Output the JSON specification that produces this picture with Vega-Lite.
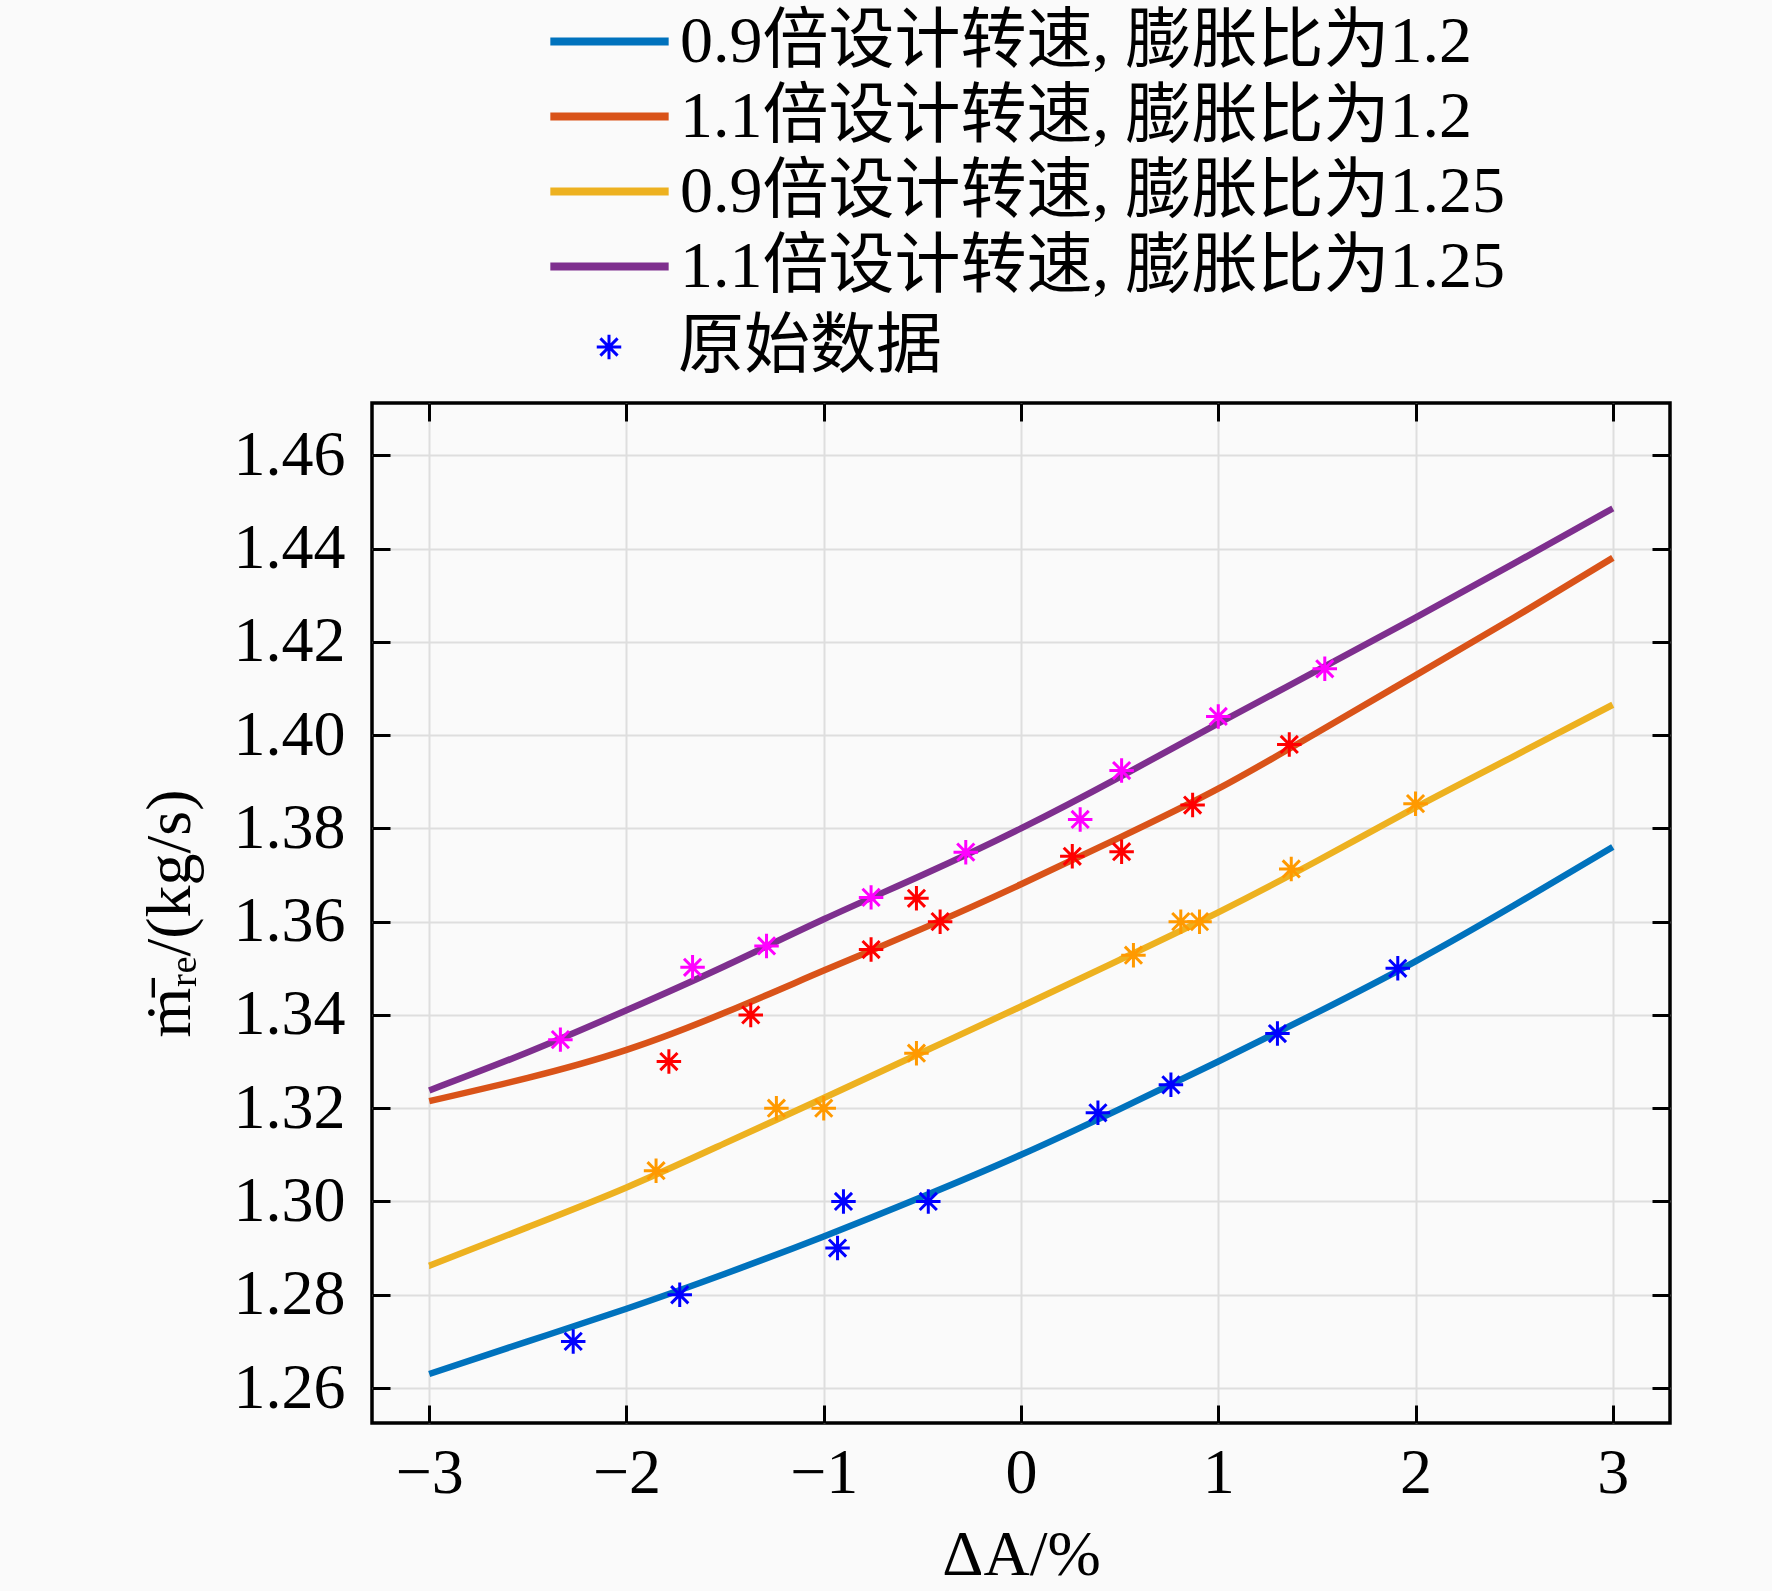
{
  "$schema": "https://vega.github.io/schema/vega-lite/v6.json",
  "width": 1298,
  "height": 1020,
  "autosize": {"type": "none"},
  "padding": {"left": 372, "top": 403, "right": 102, "bottom": 168},
  "background": "#fafafa",
  "config": {
    "view": {"stroke": "#000000", "strokeWidth": 3.5, "fill": "#fafafa"},
    "axis": {
      "labelFont": "Liberation Serif",
      "labelFontSize": 64,
      "labelColor": "#000000",
      "titleFont": "Liberation Serif",
      "titleFontSize": 64,
      "titleFontWeight": "normal",
      "titleColor": "#000000",
      "tickColor": "#000000",
      "tickWidth": 3,
      "tickSize": -18,
      "domain": false,
      "gridColor": "#dedede",
      "gridWidth": 2
    },
    "legend": {
      "labelFont": "Liberation Serif, Noto Sans CJK SC",
      "labelFontSize": 66,
      "labelColor": "#000000",
      "labelLimit": 2000
    }
  },
  "datasets": {
    "curves": [
      {"s": "0.9倍设计转速, 膨胀比为1.2", "x": -3, "y": 1.263},
      {"s": "0.9倍设计转速, 膨胀比为1.2", "x": -2.5, "y": 1.270},
      {"s": "0.9倍设计转速, 膨胀比为1.2", "x": -2, "y": 1.277},
      {"s": "0.9倍设计转速, 膨胀比为1.2", "x": -1.5, "y": 1.2845},
      {"s": "0.9倍设计转速, 膨胀比为1.2", "x": -1, "y": 1.2925},
      {"s": "0.9倍设计转速, 膨胀比为1.2", "x": -0.5, "y": 1.301},
      {"s": "0.9倍设计转速, 膨胀比为1.2", "x": 0, "y": 1.310},
      {"s": "0.9倍设计转速, 膨胀比为1.2", "x": 0.5, "y": 1.3198},
      {"s": "0.9倍设计转速, 膨胀比为1.2", "x": 1, "y": 1.330},
      {"s": "0.9倍设计转速, 膨胀比为1.2", "x": 1.5, "y": 1.3405},
      {"s": "0.9倍设计转速, 膨胀比为1.2", "x": 2, "y": 1.3515},
      {"s": "0.9倍设计转速, 膨胀比为1.2", "x": 2.5, "y": 1.3635},
      {"s": "0.9倍设计转速, 膨胀比为1.2", "x": 3, "y": 1.376},
      {"s": "1.1倍设计转速, 膨胀比为1.2", "x": -3, "y": 1.3215},
      {"s": "1.1倍设计转速, 膨胀比为1.2", "x": -2.5, "y": 1.3265},
      {"s": "1.1倍设计转速, 膨胀比为1.2", "x": -2, "y": 1.3325},
      {"s": "1.1倍设计转速, 膨胀比为1.2", "x": -1.5, "y": 1.3405},
      {"s": "1.1倍设计转速, 膨胀比为1.2", "x": -1, "y": 1.3495},
      {"s": "1.1倍设计转速, 膨胀比为1.2", "x": -0.5, "y": 1.3585},
      {"s": "1.1倍设计转速, 膨胀比为1.2", "x": 0, "y": 1.368},
      {"s": "1.1倍设计转速, 膨胀比为1.2", "x": 0.5, "y": 1.378},
      {"s": "1.1倍设计转速, 膨胀比为1.2", "x": 1, "y": 1.3885},
      {"s": "1.1倍设计转速, 膨胀比为1.2", "x": 1.5, "y": 1.4005},
      {"s": "1.1倍设计转速, 膨胀比为1.2", "x": 2, "y": 1.4128},
      {"s": "1.1倍设计转速, 膨胀比为1.2", "x": 2.5, "y": 1.4252},
      {"s": "1.1倍设计转速, 膨胀比为1.2", "x": 3, "y": 1.438},
      {"s": "0.9倍设计转速, 膨胀比为1.25", "x": -3, "y": 1.2862},
      {"s": "0.9倍设计转速, 膨胀比为1.25", "x": -2.5, "y": 1.2945},
      {"s": "0.9倍设计转速, 膨胀比为1.25", "x": -2, "y": 1.303},
      {"s": "0.9倍设计转速, 膨胀比为1.25", "x": -1.5, "y": 1.3125},
      {"s": "0.9倍设计转速, 膨胀比为1.25", "x": -1, "y": 1.3222},
      {"s": "0.9倍设计转速, 膨胀比为1.25", "x": -0.5, "y": 1.332},
      {"s": "0.9倍设计转速, 膨胀比为1.25", "x": 0, "y": 1.3418},
      {"s": "0.9倍设计转速, 膨胀比为1.25", "x": 0.5, "y": 1.3518},
      {"s": "0.9倍设计转速, 膨胀比为1.25", "x": 1, "y": 1.362},
      {"s": "0.9倍设计转速, 膨胀比为1.25", "x": 1.5, "y": 1.373},
      {"s": "0.9倍设计转速, 膨胀比为1.25", "x": 2, "y": 1.3845},
      {"s": "0.9倍设计转速, 膨胀比为1.25", "x": 2.5, "y": 1.3955},
      {"s": "0.9倍设计转速, 膨胀比为1.25", "x": 3, "y": 1.4065},
      {"s": "1.1倍设计转速, 膨胀比为1.25", "x": -3, "y": 1.3238},
      {"s": "1.1倍设计转速, 膨胀比为1.25", "x": -2.5, "y": 1.332},
      {"s": "1.1倍设计转速, 膨胀比为1.25", "x": -2, "y": 1.341},
      {"s": "1.1倍设计转速, 膨胀比为1.25", "x": -1.5, "y": 1.3505},
      {"s": "1.1倍设计转速, 膨胀比为1.25", "x": -1, "y": 1.3605},
      {"s": "1.1倍设计转速, 膨胀比为1.25", "x": -0.5, "y": 1.370},
      {"s": "1.1倍设计转速, 膨胀比为1.25", "x": 0, "y": 1.380},
      {"s": "1.1倍设计转速, 膨胀比为1.25", "x": 0.5, "y": 1.391},
      {"s": "1.1倍设计转速, 膨胀比为1.25", "x": 1, "y": 1.4025},
      {"s": "1.1倍设计转速, 膨胀比为1.25", "x": 1.5, "y": 1.4138},
      {"s": "1.1倍设计转速, 膨胀比为1.25", "x": 2, "y": 1.4252},
      {"s": "1.1倍设计转速, 膨胀比为1.25", "x": 2.5, "y": 1.4368},
      {"s": "1.1倍设计转速, 膨胀比为1.25", "x": 3, "y": 1.4486}
    ],
    "raw": [
      {"s": "0.9倍设计转速, 膨胀比为1.2", "kind": "原始数据", "x": -2.27, "y": 1.270},
      {"s": "0.9倍设计转速, 膨胀比为1.2", "kind": "原始数据", "x": -1.73, "y": 1.280},
      {"s": "0.9倍设计转速, 膨胀比为1.2", "kind": "原始数据", "x": -0.93, "y": 1.290},
      {"s": "0.9倍设计转速, 膨胀比为1.2", "kind": "原始数据", "x": -0.90, "y": 1.300},
      {"s": "0.9倍设计转速, 膨胀比为1.2", "kind": "原始数据", "x": -0.47, "y": 1.300},
      {"s": "0.9倍设计转速, 膨胀比为1.2", "kind": "原始数据", "x": 0.39, "y": 1.319},
      {"s": "0.9倍设计转速, 膨胀比为1.2", "kind": "原始数据", "x": 0.76, "y": 1.325},
      {"s": "0.9倍设计转速, 膨胀比为1.2", "kind": "原始数据", "x": 1.30, "y": 1.336},
      {"s": "0.9倍设计转速, 膨胀比为1.2", "kind": "原始数据", "x": 1.91, "y": 1.350},
      {"s": "1.1倍设计转速, 膨胀比为1.2", "kind": "原始数据", "x": -1.785, "y": 1.330},
      {"s": "1.1倍设计转速, 膨胀比为1.2", "kind": "原始数据", "x": -1.37, "y": 1.340},
      {"s": "1.1倍设计转速, 膨胀比为1.2", "kind": "原始数据", "x": -0.76, "y": 1.354},
      {"s": "1.1倍设计转速, 膨胀比为1.2", "kind": "原始数据", "x": -0.53, "y": 1.365},
      {"s": "1.1倍设计转速, 膨胀比为1.2", "kind": "原始数据", "x": -0.41, "y": 1.360},
      {"s": "1.1倍设计转速, 膨胀比为1.2", "kind": "原始数据", "x": 0.26, "y": 1.374},
      {"s": "1.1倍设计转速, 膨胀比为1.2", "kind": "原始数据", "x": 0.51, "y": 1.375},
      {"s": "1.1倍设计转速, 膨胀比为1.2", "kind": "原始数据", "x": 0.87, "y": 1.385},
      {"s": "1.1倍设计转速, 膨胀比为1.2", "kind": "原始数据", "x": 1.36, "y": 1.398},
      {"s": "0.9倍设计转速, 膨胀比为1.25", "kind": "原始数据", "x": -1.85, "y": 1.3066},
      {"s": "0.9倍设计转速, 膨胀比为1.25", "kind": "原始数据", "x": -1.24, "y": 1.320},
      {"s": "0.9倍设计转速, 膨胀比为1.25", "kind": "原始数据", "x": -1.0, "y": 1.320},
      {"s": "0.9倍设计转速, 膨胀比为1.25", "kind": "原始数据", "x": -0.53, "y": 1.3318},
      {"s": "0.9倍设计转速, 膨胀比为1.25", "kind": "原始数据", "x": 0.57, "y": 1.3528},
      {"s": "0.9倍设计转速, 膨胀比为1.25", "kind": "原始数据", "x": 0.81, "y": 1.360},
      {"s": "0.9倍设计转速, 膨胀比为1.25", "kind": "原始数据", "x": 0.905, "y": 1.360},
      {"s": "0.9倍设计转速, 膨胀比为1.25", "kind": "原始数据", "x": 1.37, "y": 1.3713},
      {"s": "0.9倍设计转速, 膨胀比为1.25", "kind": "原始数据", "x": 2.0, "y": 1.3853},
      {"s": "1.1倍设计转速, 膨胀比为1.25", "kind": "原始数据", "x": -2.335, "y": 1.3347},
      {"s": "1.1倍设计转速, 膨胀比为1.25", "kind": "原始数据", "x": -1.665, "y": 1.3502},
      {"s": "1.1倍设计转速, 膨胀比为1.25", "kind": "原始数据", "x": -1.29, "y": 1.3548},
      {"s": "1.1倍设计转速, 膨胀比为1.25", "kind": "原始数据", "x": -0.76, "y": 1.3652},
      {"s": "1.1倍设计转速, 膨胀比为1.25", "kind": "原始数据", "x": -0.28, "y": 1.3749},
      {"s": "1.1倍设计转速, 膨胀比为1.25", "kind": "原始数据", "x": 0.30, "y": 1.3819},
      {"s": "1.1倍设计转速, 膨胀比为1.25", "kind": "原始数据", "x": 0.51, "y": 1.3924},
      {"s": "1.1倍设计转速, 膨胀比为1.25", "kind": "原始数据", "x": 1.0, "y": 1.404},
      {"s": "1.1倍设计转速, 膨胀比为1.25", "kind": "原始数据", "x": 1.54, "y": 1.4142}
    ]
  },
  "layer": [
    {
      "data": {"name": "curves"},
      "mark": {"type": "line", "strokeWidth": 6.5, "interpolate": "natural", "clip": true},
      "encoding": {
        "x": {
          "field": "x", "type": "quantitative",
          "scale": {"domain": [-3.29, 3.29], "nice": false, "zero": false},
          "axis": {"values": [-3, -2, -1, 0, 1, 2, 3], "format": "d", "title": "ΔA/%", "labelPadding": 36, "titlePadding": 18}
        },
        "y": {
          "field": "y", "type": "quantitative",
          "scale": {"domain": [1.2525, 1.4712], "nice": false, "zero": false},
          "axis": {"values": [1.26, 1.28, 1.3, 1.32, 1.34, 1.36, 1.38, 1.4, 1.42, 1.44, 1.46], "format": ".2f", "title": "ṁ̄ᵣₑ/(kg/s)", "labelPadding": 45, "titlePadding": 31}
        },
        "color": {
          "field": "s", "type": "nominal",
          "scale": {
            "domain": ["0.9倍设计转速, 膨胀比为1.2", "1.1倍设计转速, 膨胀比为1.2", "0.9倍设计转速, 膨胀比为1.25", "1.1倍设计转速, 膨胀比为1.25"],
            "range": ["#0072BD", "#D95319", "#EDB120", "#7E2F8E"]
          },
          "legend": {
            "title": null,
            "orient": "none",
            "legendX": 174,
            "legendY": -399,
            "symbolType": "stroke",
            "symbolSize": 14000,
            "symbolStrokeWidth": 8,
            "labelOffset": 7,
            "clipHeight": 75,
            "rowPadding": 0
          }
        }
      }
    },
    {
      "data": {"name": "raw"},
      "mark": {"type": "point", "filled": false, "strokeWidth": 3, "size": 600, "opacity": 1},
      "encoding": {
        "x": {"field": "x", "type": "quantitative", "axis": null},
        "y": {"field": "y", "type": "quantitative", "axis": null},
        "color": {
          "field": "s", "type": "nominal",
          "scale": {
            "domain": ["0.9倍设计转速, 膨胀比为1.2", "1.1倍设计转速, 膨胀比为1.2", "0.9倍设计转速, 膨胀比为1.25", "1.1倍设计转速, 膨胀比为1.25"],
            "range": ["#0000ff", "#ff0000", "#ff9900", "#ff00ff"]
          },
          "legend": null
        },
        "shape": {
          "field": "kind", "type": "nominal",
          "scale": {"range": ["M0,-1L0,1M-1,0L1,0M-0.7,-0.7L0.7,0.7M-0.7,0.7L0.7,-0.7"]},
          "legend": {
            "title": null,
            "orient": "none",
            "legendX": 204,
            "legendY": -89,
            "symbolSize": 600,
            "symbolStrokeColor": "#0000ff",
            "symbolStrokeWidth": 3,
            "labelOffset": 36
          }
        }
      }
    },
    {
      "data": {"name": "raw"},
      "mark": {"type": "point", "opacity": 0},
      "encoding": {
        "x": {"field": "x", "type": "quantitative", "axis": {"orient": "top", "values": [-3, -2, -1, 0, 1, 2, 3], "labels": false, "grid": false, "title": null}},
        "y": {"field": "y", "type": "quantitative", "axis": {"orient": "right", "values": [1.26, 1.28, 1.3, 1.32, 1.34, 1.36, 1.38, 1.4, 1.42, 1.44, 1.46], "labels": false, "grid": false, "title": null}}
      }
    }
  ],
  "resolve": {
    "scale": {"color": "independent"},
    "axis": {"x": "independent", "y": "independent"}
  }
}
